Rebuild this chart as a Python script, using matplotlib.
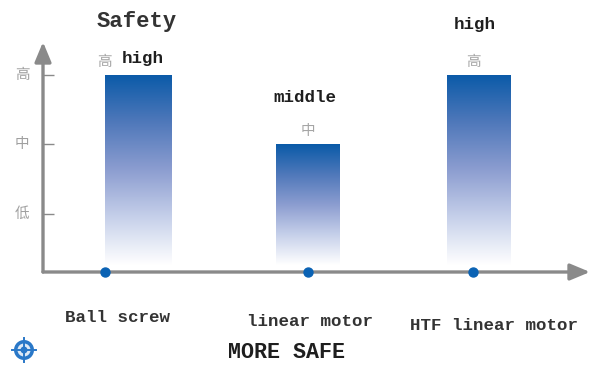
import numpy as np
import matplotlib
matplotlib.use("Agg")
import matplotlib.pyplot as plt
from matplotlib.colors import LinearSegmentedColormap
from matplotlib.patches import Circle

### DATA
categories = ["Ball screw", "linear motor", "HTF linear motor"]
levels = [3, 2, 3]
level_words = ["high", "middle", "high"]
level_marks = ["高", "中", "高"]
y_ticks = [1, 2, 3]
y_tick_labels = ["低", "中", "高"]
title = "Safety"
footer = "MORE SAFE"

### LAYOUT (pixels, origin top left)
W, H = 592, 368
axis_x, axis_y = 43, 272
bar_left = [62, 233, 404]
bar_width = [67, 64, 64]
dot_x = [62, 265, 430]
cat_text = [(65, 318), (247, 321), (410, 326)]
word_text = [(143, 59), (305, 97), (475, 24)]
mark_text = [(104, 62), (308, 131), (473, 62)]
bar_base = 0.27

MONO = "Liberation Mono"
CJK = "Noto Sans CJK SC"
GREY = "#8a8a8a"
DARK = "#1e1e1e"


def px(x, y):
    return x / W, 1 - y / H


fig = plt.figure(figsize=(W / 100, H / 100), dpi=100)
ax = fig.add_axes([axis_x / W, (H - axis_y) / H, (590 - axis_x) / W, (axis_y - 42) / H])
ax.set_xlim(0, 590 - axis_x)
ylim = (0.168, 3.47)

# gradient fill clipped to each bar
cmap = LinearSegmentedColormap.from_list(
    "bar", ["#ffffff", "#c6d0ea", "#8c9dd0", "#4f78ba", "#0a5aa8"]
)
grad = np.linspace(1, 0, 256).reshape(-1, 1)
bars = ax.bar(bar_left, [v - bar_base for v in levels], bar_width, bottom=bar_base,
              align="edge", facecolor="none", edgecolor="none")
for rect in bars:
    x0, x1 = rect.get_x(), rect.get_x() + rect.get_width()
    y0, y1 = rect.get_y(), rect.get_y() + rect.get_height()
    im = ax.imshow(grad, extent=(x0, x1, y0, y1), cmap=cmap, vmin=0, vmax=1,
                   aspect="auto", zorder=1)
    im.set_clip_path(rect)
ax.set_xlim(0, 590 - axis_x)
ax.set_ylim(*ylim)

# arrow axes
for s in ["top", "right", "left", "bottom"]:
    ax.spines[s].set_visible(False)
arrow = dict(arrowstyle="-|>,head_width=0.5,head_length=1.2", color=GREY, lw=2.4,
             shrinkA=0, shrinkB=0)
ax.annotate("", xy=(0, 1), xytext=(0, 0), xycoords="axes fraction", arrowprops=arrow,
            annotation_clip=False)
ax.annotate("", xy=(1, 0), xytext=(0, 0), xycoords="axes fraction", arrowprops=arrow,
            annotation_clip=False)

ax.set_xticks([])
ax.set_yticks(y_ticks)
ax.set_yticklabels([])
ax.tick_params(axis="y", direction="in", length=8, width=1, color=GREY)
ax.scatter(dot_x, [ylim[0]] * len(dot_x), s=42, color="#0a62b4", zorder=5, clip_on=False)

# text
for v, lab in zip(y_ticks, y_tick_labels):
    ax.annotate(lab, xy=(0, v), xytext=(-21, 0), textcoords="offset pixels", ha="center",
                va="center", family=CJK, fontsize=10.5, color="#a0a0a0",
                annotation_clip=False)
for (x, y), s in zip(mark_text, level_marks):
    fig.text(*px(x, y), s, ha="center", va="center", family=CJK, fontsize=10.5, color="#a5a5a5")
for (x, y), s in zip(word_text, level_words):
    fig.text(*px(x, y), s, ha="center", va="center", family=MONO, fontsize=12.6,
             weight="bold", color=DARK)
for (x, y), s in zip(cat_text, categories):
    fig.text(*px(x, y), s, ha="left", va="center", family=MONO, fontsize=12.6,
             weight="bold", color="#333333")
fig.text(*px(137, 22), title, ha="center", va="center", family=MONO, fontsize=16,
         weight="bold", color="#333333")
fig.text(*px(287, 353), footer, ha="center", va="center", family=MONO, fontsize=15.6,
         weight="bold", color=DARK)

# small round logo at the lower left
logo_ax = fig.add_axes([0, 0, 1, 1], facecolor="none")
logo_ax.set_xlim(0, W)
logo_ax.set_ylim(H, 0)
logo_ax.set_aspect("equal")
logo_ax.axis("off")
logo_ax.add_patch(Circle((24, 350), 10, fc="#2a78c8", ec="none"))
logo_ax.add_patch(Circle((24, 350), 6.5, fc="#dfeaf6", ec="none"))
logo_ax.add_patch(Circle((24, 350), 3.5, fc="#2a78c8", ec="none"))
logo_ax.plot([24, 24], [338, 362], color="#2a78c8", lw=1.4)
logo_ax.plot([12, 36], [350, 350], color="#2a78c8", lw=1.4)

fig.savefig("out.png", dpi=100)
